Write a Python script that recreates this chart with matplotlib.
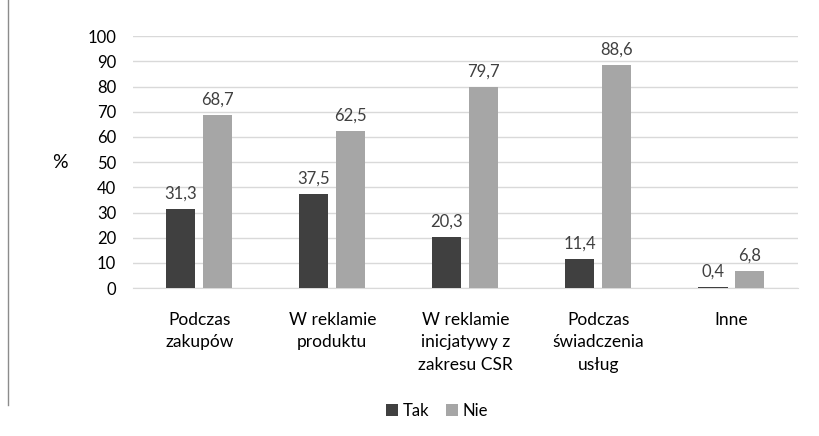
import matplotlib.pyplot as plt
import numpy as np
from matplotlib.lines import Line2D

plt.rcParams['font.family'] = ['Lato', 'DejaVu Sans']

categories = ['Podczas\nzakupów', 'W reklamie\nproduktu', 'W reklamie\ninicjatywy z\nzakresu CSR',
              'Podczas\nświadczenia\nusług', 'Inne']
tak = [31.3, 37.5, 20.3, 11.4, 0.4]
nie = [68.7, 62.5, 79.7, 88.6, 6.8]

fig = plt.figure(figsize=(8.2, 4.36), dpi=100)
ax = fig.add_axes([0.162, 0.339, 0.811, 0.578])

x = np.arange(len(categories))
w = 0.22
off = 0.139
b1 = ax.bar(x - off, tak, w, color='#404040', label='Tak', zorder=3)
b2 = ax.bar(x + off, nie, w, color='#a6a6a6', label='Nie', zorder=3)

for bars, vals in [(b1, tak), (b2, nie)]:
    for r, v in zip(bars, vals):
        ax.text(r.get_x() + r.get_width() / 2, v + 3.0, str(v).replace('.', ','),
                ha='center', va='bottom', fontsize=12, color='#404040')

ax.set_xlim(-0.5, len(categories) - 0.5)
ax.set_ylim(0, 100)
ax.set_yticks(range(0, 101, 10))
ax.set_xticks(x)
ax.set_xticklabels(categories, fontsize=12.5, linespacing=1.5, va='top')
ax.tick_params(axis='y', labelsize=12, length=0, pad=12)
ax.tick_params(axis='x', length=0, pad=17)
ax.yaxis.grid(True, color='#d9d9d9', linewidth=1, zorder=0)
for s in ['top', 'right', 'left']:
    ax.spines[s].set_visible(False)
ax.spines['bottom'].set_color('#d9d9d9')
ax.set_ylabel('%', rotation=0, fontsize=14, labelpad=20, va='center')

fig.legend(handles=[b1, b2], labels=['Tak', 'Nie'], loc='center', bbox_to_anchor=(0.533, 0.058),
           ncol=2, frameon=False, fontsize=12, handlelength=0.7, handleheight=0.7,
           columnspacing=1.0, handletextpad=0.3)

fig.add_artist(Line2D([0.0098, 0.0098], [1.0, 0.07], color='#8c8c8c', linewidth=1))

fig.savefig('out.png', dpi=100)
